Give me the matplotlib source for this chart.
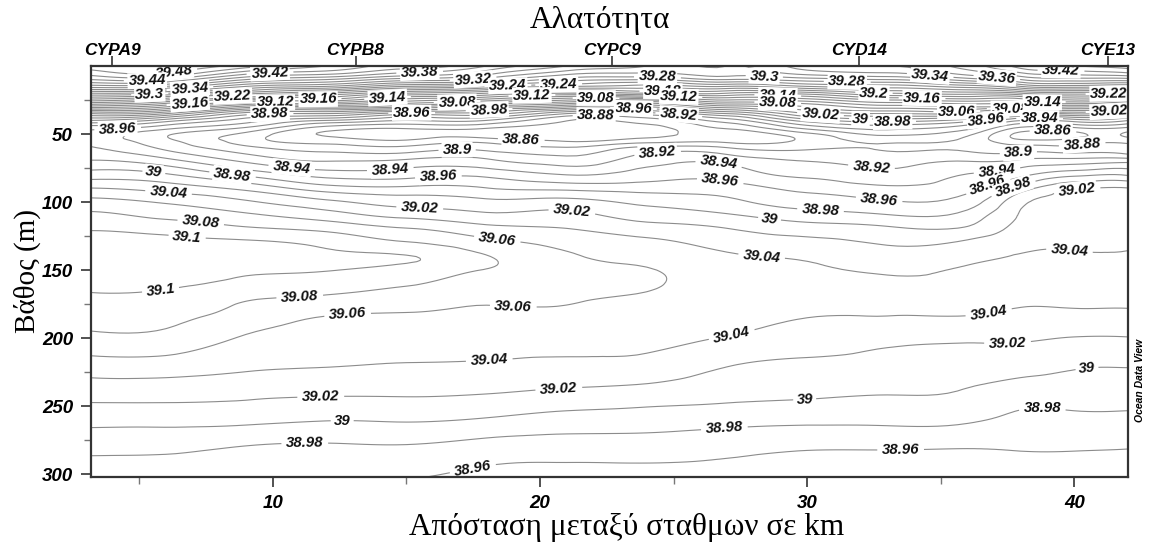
import numpy as np
import matplotlib
matplotlib.use("Agg")
import matplotlib.pyplot as plt
import matplotlib.tri as mtri

# section grid: distance (km) x depth (m)
distance = [3.2, 6, 9, 12, 15, 18, 21, 24, 27, 30, 33, 36, 38, 40, 42]
depth = [0, 5, 10, 15, 20, 25, 30, 35, 40, 45, 50, 55, 60, 65, 70, 80, 90,
         100, 110, 120, 130, 140, 150, 160, 170, 180, 190, 200, 220, 240,
         260, 280, 302]

# salinity profile at each distance (same order as depth)
sal_3_2 = [39.49, 39.47, 39.44, 39.39, 39.32, 39.25, 39.17, 39.08, 39.02, 38.97, 38.955,
           38.955, 38.961, 38.97, 38.982, 39.01, 39.041, 39.067, 39.085, 39.099, 39.106,
           39.108, 39.106, 39.103, 39.098, 39.091, 39.084, 39.075, 39.051, 39.028, 39.006,
           38.986, 38.966]
sal_6 = [39.5, 39.481, 39.44, 39.38, 39.302, 39.22, 39.141, 39.061, 38.99, 38.95, 38.923,
         38.925, 38.935, 38.95, 38.968, 39.003, 39.032, 39.058, 39.075, 39.094, 39.105,
         39.11, 39.108, 39.103, 39.096, 39.089, 39.082, 39.074, 39.051, 39.028, 39.006,
         38.985, 38.966]
sal_9 = [39.47, 39.43, 39.38, 39.32, 39.25, 39.16, 39.07, 38.99, 38.95, 38.921, 38.895,
         38.89, 38.905, 38.921, 38.937, 38.976, 39.015, 39.043, 39.064, 39.084, 39.104,
         39.112, 39.104, 39.095, 39.083, 39.075, 39.066, 39.058, 39.044, 39.025, 39.005,
         38.979, 38.965]
sal_12 = [39.44, 39.41, 39.36, 39.3, 39.22, 39.15, 39.06, 38.98, 38.92, 38.875, 38.858,
          38.87, 38.89, 38.905, 38.92, 38.952, 38.99, 39.025, 39.05, 39.076, 39.095,
          39.104, 39.101, 39.088, 39.078, 39.064, 39.056, 39.051, 39.041, 39.023, 39.001,
          38.977, 38.963]
sal_15 = [39.41, 39.38, 39.33, 39.26, 39.18, 39.11, 39.041, 38.95, 38.9, 38.865, 38.852,
          38.862, 38.885, 38.905, 38.925, 38.952, 38.985, 39.012, 39.035, 39.062, 39.082,
          39.101, 39.093, 39.082, 39.07, 39.061, 39.052, 39.047, 39.039, 39.023, 39.002,
          38.978, 38.961]
sal_18 = [39.38, 39.35, 39.31, 39.241, 39.16, 39.09, 39.01, 38.95, 38.9, 38.865, 38.85,
          38.872, 38.892, 38.91, 38.925, 38.955, 38.981, 39.005, 39.025, 39.048, 39.066,
          39.081, 39.079, 39.07, 39.063, 39.058, 39.052, 39.047, 39.038, 39.021, 38.998,
          38.972, 38.955]
sal_21 = [39.34, 39.31, 39.27, 39.221, 39.14, 39.061, 38.98, 38.9, 38.861, 38.848, 38.845,
          38.858, 38.881, 38.897, 38.91, 38.94, 38.975, 39.008, 39.026, 39.041, 39.055,
          39.062, 39.065, 39.065, 39.062, 39.058, 39.052, 39.047, 39.036, 39.016, 38.992,
          38.97, 38.952]
sal_24 = [39.32, 39.3, 39.26, 39.21, 39.16, 39.06, 38.98, 38.91, 38.87, 38.855, 38.855,
          38.87, 38.905, 38.922, 38.932, 38.95, 38.972, 38.995, 39.012, 39.03, 39.045,
          39.055, 39.061, 39.062, 39.058, 39.054, 39.05, 39.045, 39.034, 39.012, 38.99,
          38.97, 38.952]
sal_27 = [39.32, 39.31, 39.28, 39.22, 39.16, 39.1, 39.03, 38.96, 38.91, 38.885, 38.868,
          38.874, 38.9, 38.92, 38.935, 38.952, 38.97, 38.985, 39.003, 39.021, 39.033,
          39.043, 39.048, 39.05, 39.05, 39.048, 39.044, 39.039, 39.021, 39.006, 38.987,
          38.966, 38.954]
sal_30 = [39.35, 39.33, 39.29, 39.24, 39.17, 39.11, 39.06, 39.02, 38.97, 38.93, 38.895,
          38.885, 38.895, 38.91, 38.92, 38.935, 38.955, 38.97, 38.99, 39.01, 39.027,
          39.038, 39.042, 39.044, 39.044, 39.042, 39.038, 39.033, 39.015, 39.003, 38.985,
          38.962, 38.952]
sal_33 = [39.36, 39.34, 39.3, 39.25, 39.2, 39.14, 39.09, 39.04, 38.99, 38.95, 38.925,
          38.905, 38.898, 38.905, 38.915, 38.925, 38.945, 38.962, 38.982, 39.004, 39.018,
          39.03, 39.038, 39.042, 39.042, 39.041, 39.036, 39.026, 39.012, 39.001, 38.985,
          38.962, 38.95]
sal_36 = [39.39, 39.37, 39.33, 39.27, 39.21, 39.15, 39.1, 39.04, 38.97, 38.93, 38.905,
          38.895, 38.896, 38.905, 38.92, 38.941, 38.955, 38.97, 38.988, 39.004, 39.024,
          39.035, 39.042, 39.042, 39.042, 39.041, 39.036, 39.024, 39.01, 38.998, 38.983,
          38.961, 38.95]
sal_38 = [39.43, 39.4, 39.36, 39.3, 39.22, 39.15, 39.1, 38.998, 38.921, 38.88, 38.855,
          38.865, 38.888, 38.905, 38.925, 38.955, 38.99, 39.015, 39.022, 39.028, 39.035,
          39.041, 39.043, 39.043, 39.042, 39.039, 39.033, 39.023, 39.008, 38.99, 38.975,
          38.962, 38.948]
sal_40 = [39.44, 39.41, 39.37, 39.31, 39.23, 39.16, 39.082, 39.003, 38.93, 38.882, 38.855,
          38.868, 38.885, 38.905, 38.93, 38.975, 39.018, 39.025, 39.03, 39.034, 39.038,
          39.041, 39.043, 39.043, 39.042, 39.039, 39.03, 39.019, 39.002, 38.99, 38.975,
          38.962, 38.947]
sal_42 = [39.45, 39.42, 39.37, 39.302, 39.223, 39.142, 39.061, 38.981, 38.921, 38.881,
          38.856, 38.872, 38.887, 38.901, 38.935, 38.978, 39.021, 39.025, 39.03, 39.034,
          39.038, 39.041, 39.043, 39.043, 39.042, 39.039, 39.03, 39.019, 39.001, 38.99,
          38.975, 38.961, 38.945]

stations = ["CYPA9", "CYPB8", "CYPC9", "CYD14", "CYE13"]
station_km = [4.0, 13.1, 22.7, 31.95, 41.25]

levels = np.round(np.arange(38.86, 39.49, 0.02), 2)

# where ODV put the contour labels (km, m)
label_spots = [
    # surface layer
    (6.3, 4), (5.3, 10), (6.9, 16), (5.4, 21), (8.5, 22), (6.9, 27), (10.1, 27),
    (11.7, 24), (9.9, 35), (9.9, 6), (15.5, 5), (17.5, 10), (18.8, 15), (20.7, 13),
    (19.7, 22), (14.3, 24), (16.9, 27), (15.2, 35), (18.1, 33), (24.4, 7), (28.4, 6),
    (24.6, 18), (22.1, 24), (25.2, 22), (23.5, 31), (22.1, 37), (25.2, 35), (28.9, 22),
    (28.9, 27), (30.5, 35), (31.5, 11), (34.6, 8), (32.5, 20), (34.3, 24), (37.1, 8),
    (39.5, 4), (32.0, 39), (33.2, 42), (35.6, 33), (37.6, 31), (38.8, 27), (36.7, 39),
    (38.7, 39), (41.3, 20), (41.3, 33),
    # below the halocline
    (4.2, 47), (5.55, 78.6), (8.5, 79), (10.7, 77), (6.1, 93), (7.3, 116), (6.8, 125),
    (5.8, 164), (11.0, 165), (12.8, 181), (19.3, 55), (16.9, 61), (14.4, 76),
    (16.2, 81.5), (15.5, 105), (21.2, 106), (18.4, 128), (19.0, 178), (24.4, 63),
    (26.7, 70), (26.8, 77), (28.6, 111), (28.3, 139), (32.4, 76), (32.7, 97),
    (30.5, 106), (37.1, 76), (37.9, 63), (39.2, 50), (40.3, 59), (36.8, 90),
    (37.7, 89), (40.1, 91), (39.8, 138), (36.8, 182), (18.1, 215), (27.2, 199.6),
    (20.7, 235), (37.5, 203), (11.8, 245), (12.6, 262), (11.2, 278), (29.9, 242),
    (40.5, 226.7), (26.9, 265.5), (38.8, 251), (17.5, 297), (33.5, 284.6),
]

sal = np.column_stack([sal_3_2, sal_6, sal_9, sal_12, sal_15, sal_18, sal_21, sal_24,
                       sal_27, sal_30, sal_33, sal_36, sal_38, sal_40, sal_42])
X, D = np.meshgrid(distance, depth)

# smooth the contours with matplotlib's cubic tri refiner (depth scaled down)
dscale = 6.0
tri = mtri.Triangulation(X.ravel(), D.ravel() / dscale)
refiner = mtri.UniformTriRefiner(tri)
tri_f, sal_f = refiner.refine_field(sal.ravel(), subdiv=3)
tri_f = mtri.Triangulation(tri_f.x, tri_f.y * dscale, tri_f.triangles)

sans = ["Liberation Sans", "DejaVu Sans"]
serif = ["Liberation Serif", "DejaVu Serif"]

fig = plt.figure(figsize=(11.52, 5.48), dpi=100)
ax = fig.add_axes([0.079, 0.1296, 0.9, 0.75])

cs = ax.tricontour(tri_f, sal_f, levels=levels, colors="#8c8c8c", linewidths=0.8)

ax.set_xlim(3.2, 42)
ax.set_ylim(302, 0)


def fmt(v):
    return f"{v:.2f}".rstrip("0").rstrip(".")


lbls = ax.clabel(cs, fmt=fmt, fontsize=10.8, inline=True, inline_spacing=2,
                 manual=label_spots)
for t in lbls:
    t.set_fontfamily(sans)
    t.set_fontweight("bold")
    t.set_fontstyle("italic")
    t.set_color("#111111")
    t.set_bbox(dict(facecolor="white", edgecolor="none", pad=0.6))
    t.set_clip_on(True)

ax.set_xticks([10, 20, 30, 40])
ax.set_xticks([5, 15, 25, 35], minor=True)
ax.set_yticks([50, 100, 150, 200, 250, 300])
ax.set_yticks([25, 75, 125, 175, 225, 275], minor=True)
ax.tick_params(which="major", length=7, width=1.2, color="#333333", pad=6)
ax.tick_params(which="minor", length=5, width=1, color="#777777")
for lab in ax.get_xticklabels() + ax.get_yticklabels():
    lab.set_fontfamily(sans)
    lab.set_fontweight("bold")
    lab.set_fontstyle("italic")
    lab.set_fontsize(13.5)
for sp in ax.spines.values():
    sp.set_linewidth(1.6)
    sp.set_color("#333333")
    sp.set_zorder(5)

top = ax.secondary_xaxis("top")
top.set_xticks(station_km, labels=stations)
top.tick_params(length=7, width=1.2, color="#333333", pad=-1)
for lab in top.get_xticklabels():
    lab.set_fontfamily(sans)
    lab.set_fontweight("bold")
    lab.set_fontstyle("italic")
    lab.set_fontsize(12.5)
top.spines["top"].set_visible(False)

fig.text(0.521, 0.963, "Αλατότητα", ha="center", va="center", fontsize=22.5, family=serif)
fig.text(0.544, 0.038, "Απόσταση μεταξύ σταθμων σε km", ha="center", va="center",
         fontsize=22.5, family=serif)
fig.text(0.024, 0.505, "Βάθος (m)", ha="center", va="center", rotation=90,
         fontsize=21, family=serif)
fig.text(0.99, 0.305, "Ocean Data View", ha="center", va="center", rotation=90,
         fontsize=7.5, family=sans, fontweight="bold", fontstyle="italic")

fig.savefig("out.png", dpi=100)
